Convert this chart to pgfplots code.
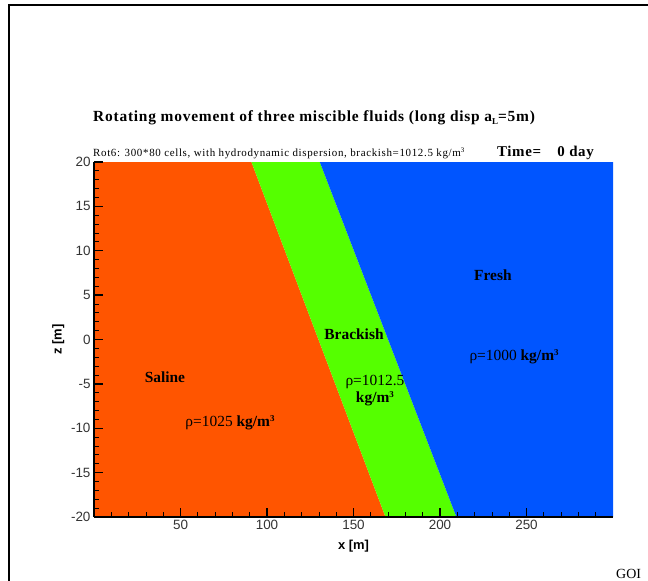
\documentclass[border=0pt]{standalone}
\usepackage{pgfplots}
\pgfplotsset{compat=1.18}
\usepackage{fontspec}
\setmainfont{Liberation Serif}
\setsansfont{Liberation Sans}
\definecolor{saline}{RGB}{255,85,0}
\definecolor{brack}{RGB}{85,255,0}
\definecolor{fresh}{RGB}{0,85,255}
\begin{document}
\begin{tikzpicture}[x=1bp,y=1bp]
\useasboundingbox (0,0) rectangle (648,-581);
\draw[line width=1.5bp] (9,-581) -- (9,-5) -- (648,-5);
\node[anchor=base west, inner sep=0pt, font=\fontsize{15.5}{16}\selectfont\bfseries\addfontfeature{LetterSpace=5}] at (93,-122)
  {Rotating movement of three miscible fluids (long disp a\raisebox{-3bp}{\fontsize{9}{9}\selectfont L}=5m)};
\node[anchor=base west, inner sep=0pt, font=\fontsize{11}{12}\selectfont\addfontfeature{LetterSpace=6}] at (93,-157)
  {Rot6: 300*80 cells, with hydrodynamic dispersion, brackish=1012.5 kg/m\raisebox{4bp}{\fontsize{7}{7}\selectfont 3}};
\node[anchor=base west, inner sep=0pt, font=\fontsize{15}{16}\selectfont\bfseries\addfontfeature{LetterSpace=4}] at (497,-157)
  {Time=\hspace{1.1em}0 day};
\node[anchor=base west, inner sep=0pt, font=\fontsize{14}{14}\selectfont] at (616,-578) {GOI};
\begin{axis}[
  at={(94bp,-517bp)}, anchor=south west,
  scale only axis, width=519bp, height=355bp,
  xmin=0, xmax=300, ymin=-20, ymax=20,
  axis x line=bottom, axis y line=left,
  axis line style={line width=1.8bp,-},
  axis on top,
  xtick={50,100,...,250},
  minor xtick={10,20,...,290},
  ytick={-20,-15,...,20},
  minor ytick={-19,-18,...,19},
  tick align=inside,
  major tick length=9bp, minor tick length=5bp,
  major tick style={black, line width=1.3bp},
  minor tick style={black, line width=0.8bp},
  tick label style={font=\fontsize{13.5}{14}\selectfont\sffamily, text=black!80},
  /pgf/number format/assume math mode=true,
  xlabel={x [m]}, ylabel={z [m]},
  xlabel style={font=\fontsize{13}{14}\selectfont\sffamily\bfseries, at={(axis description cs:0.5,0)}, anchor=north, yshift=-20bp},
  ylabel style={font=\fontsize{13}{14}\selectfont\sffamily\bfseries},
]
\addplot[fill=saline, draw=none] coordinates {(0,-20) (0,20) (91,20) (168.5,-20)} -- cycle;
\addplot[fill=brack, draw=none] coordinates {(91,20) (130.5,20) (209.5,-20) (168.5,-20)} -- cycle;
\addplot[fill=fresh, draw=none] coordinates {(130.5,20) (300,20) (300,-20) (209.5,-20)} -- cycle;
\node[font=\fontsize{15.5}{16}\selectfont\bfseries] at (axis cs:230.6,7.2) {Fresh};
\node[font=\fontsize{15.5}{16}\selectfont] at (axis cs:242.8,-1.9) {ρ=1000 \textbf{kg/m\raisebox{5bp}{\fontsize{9}{9}\selectfont 3}}};
\node[font=\fontsize{15.5}{16}\selectfont\bfseries] at (axis cs:150.3,0.6) {Brackish};
\node[font=\fontsize{15.5}{16}\selectfont] at (axis cs:162.4,-4.8) {ρ=1012.5};
\node[font=\fontsize{15.5}{16}\selectfont\bfseries] at (axis cs:162.4,-6.7) {kg/m\raisebox{5bp}{\fontsize{9}{9}\selectfont 3}};
\node[font=\fontsize{15.5}{16}\selectfont\bfseries] at (axis cs:41,-4.2) {Saline};
\node[font=\fontsize{15.5}{16}\selectfont] at (axis cs:78.6,-9.4) {ρ=1025 \textbf{kg/m\raisebox{5bp}{\fontsize{9}{9}\selectfont 3}}};
\end{axis}
\end{tikzpicture}
\end{document}
